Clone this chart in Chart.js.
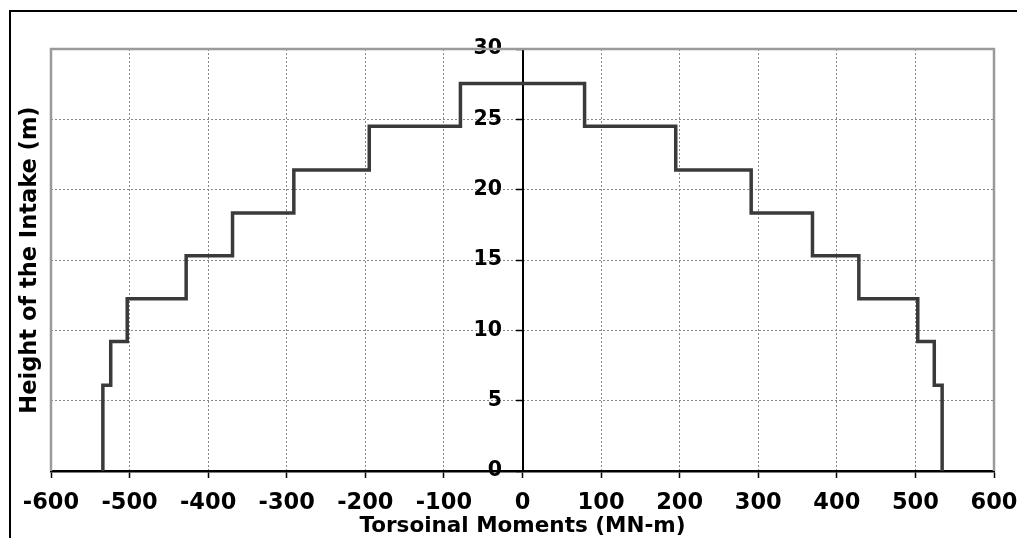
<!DOCTYPE html>
<html>
<head>
<meta charset="utf-8">
<script src="https://cdn.jsdelivr.net/npm/chart.js@4/dist/chart.umd.min.js"></script>
<style>
  body { margin: 0; background: #fff; }
</style>
</head>
<body>
<canvas id="torsionChart" width="1017" height="538"></canvas>
<script>
// step levels of the intake (m) and moment per band (MN-m), mirrored left/right
const bandHeights = [0, 6.1, 9.2, 12.25, 15.3, 18.35, 21.4, 24.5, 27.55];
const bandMoments = [534, 524, 503, 428, 369, 291, 195, 79];
const xTicks = [-600, -500, -400, -300, -200, -100, 0, 100, 200, 300, 400, 500, 600];
const yTicks = [0, 5, 10, 15, 20, 25, 30];

// build the step outline from the bands
const points = [];
for (let i = 0; i < bandMoments.length; i++) {
  points.push({ x: -bandMoments[i], y: bandHeights[i] });
  points.push({ x: -bandMoments[i], y: bandHeights[i + 1] });
}
for (let i = bandMoments.length - 1; i >= 0; i--) {
  points.push({ x: bandMoments[i], y: bandHeights[i + 1] });
  points.push({ x: bandMoments[i], y: bandHeights[i] });
}

const xTickFont = { family: "DejaVu Sans", size: 22.5, weight: "bold" };
const yTickFont = { family: "DejaVu Sans", size: 20.5, weight: "bold" };

// gray plot frame + outer black frame
const frames = {
  id: "frames",
  beforeDraw(chart) {
    const ctx = chart.ctx;
    ctx.save();
    ctx.strokeStyle = "#000";
    ctx.lineWidth = 2;
    ctx.beginPath();
    ctx.moveTo(10, 700);
    ctx.lineTo(10, 11);
    ctx.lineTo(1200, 11);
    ctx.stroke();
    ctx.restore();
  },
  beforeDatasetsDraw(chart) {
    const { ctx, chartArea: a } = chart;
    ctx.save();
    ctx.strokeStyle = "#9a9a9a";
    ctx.lineWidth = 2.5;
    ctx.beginPath();
    ctx.moveTo(a.left, a.bottom);
    ctx.lineTo(a.left, a.top);
    ctx.lineTo(a.right, a.top);
    ctx.lineTo(a.right, a.bottom);
    ctx.stroke();
    ctx.restore();
  }
};

new Chart(document.getElementById("torsionChart"), {
  type: "scatter",
  data: {
    datasets: [{
      data: points,
      showLine: true,
      borderColor: "#3a3a3a",
      borderWidth: 3.5,
      pointRadius: 0,
      xAxisID: "x",
      yAxisID: "y"
    }]
  },
  options: {
    responsive: false,
    animation: false,
    devicePixelRatio: 1,
    layout: { padding: { top: 49, right: 23, left: 0, bottom: 0 } },
    plugins: { legend: { display: false }, tooltip: { enabled: false } },
    scales: {
      x: {
        type: "linear",
        position: "bottom",
        min: -600,
        max: 600,
        afterBuildTicks: s => { s.ticks = xTicks.map(v => ({ value: v })); },
        ticks: { font: xTickFont, color: "#000", padding: 12, maxRotation: 0 },
        grid: { color: "#888", lineWidth: 1, tickColor: "#000", tickLength: 7, tickWidth: 1.5, tickBorderDash: [] },
        border: { color: "#000", width: 2.5, dash: [2, 2] },
        title: {
          display: true,
          text: "Torsoinal Moments (MN-m)",
          font: { family: "DejaVu Sans", size: 21.5, weight: "bold", lineHeight: 1.1 },
          color: "#000",
          padding: { top: 0, bottom: 0 }
        },
        afterFit: s => { s.height = 67; s.paddingLeft = 0; s.paddingRight = 0; }
      },
      y: {
        type: "linear",
        position: { x: 0 },
        min: 0,
        max: 30,
        afterBuildTicks: s => { s.ticks = yTicks.map(v => ({ value: v })); },
        // labels sit right-aligned on the centre axis, the em space keeps them clear of it
        ticks: { font: yTickFont, color: "#000", callback: v => v + "\u2003" },
        grid: { color: "#888", lineWidth: 1, tickColor: "#000", tickLength: 6, tickWidth: 1.5, tickBorderDash: [] },
        border: { color: "#000", width: 2, dash: [2, 2] }
      },
      yTitle: {
        type: "linear",
        position: "left",
        min: 0,
        max: 30,
        ticks: { display: false },
        grid: { display: false },
        border: { display: false },
        title: {
          display: true,
          text: "Height of the Intake (m)",
          font: { family: "DejaVu Sans", size: 22.5, weight: "bold" },
          color: "#000",
          padding: { top: 17, bottom: 0 }
        },
        afterFit: s => { s.width = 51; }
      }
    }
  },
  plugins: [frames]
});
</script>
</body>
</html>
